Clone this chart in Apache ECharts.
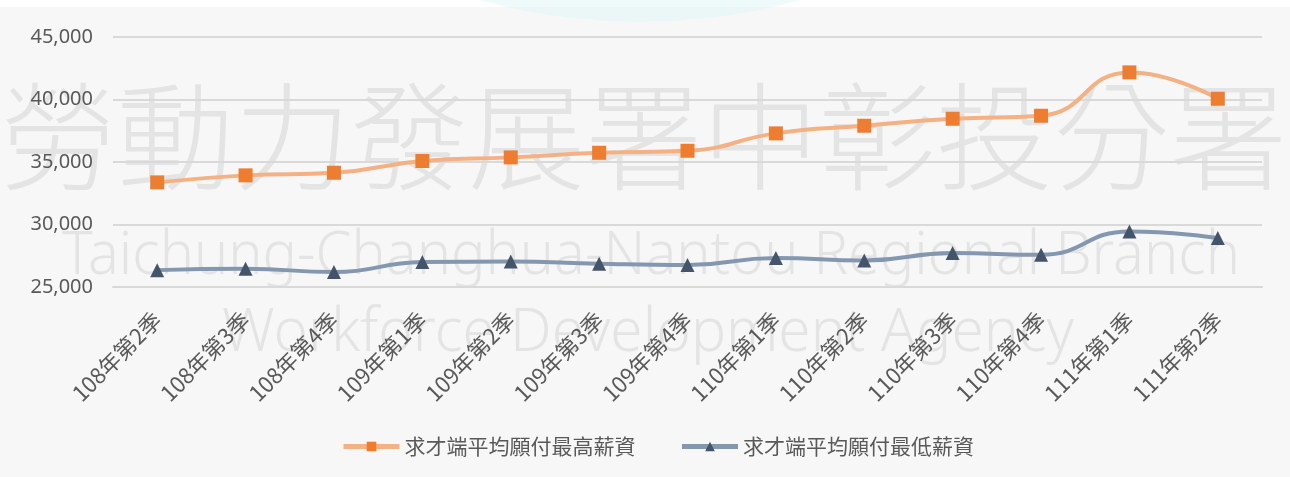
<!DOCTYPE html>
<html>
<head>
<meta charset="utf-8">
<script src="https://cdn.jsdelivr.net/npm/echarts@6/dist/echarts.min.js"></script>
<style>
html,body{margin:0;padding:0;background:#ffffff;}
#chart{width:1290px;height:477px;}
</style>
</head>
<body>
<div id="chart"></div>
<script>
const categories = ['108年第2季','108年第3季','108年第4季','109年第1季','109年第2季','109年第3季','109年第4季','110年第1季','110年第2季','110年第3季','110年第4季','111年第1季','111年第2季'];
const highSalary = [33370, 33930, 34140, 35080, 35370, 35740, 35900, 37290, 37900, 38460, 38700, 42170, 40060];
const lowSalary = [26350, 26460, 26200, 27000, 27050, 26860, 26760, 27320, 27130, 27720, 27580, 29450, 28920];
const seriesNames = ['求才端平均願付最高薪資', '求才端平均願付最低薪資'];
const yTicks = {min: 25000, max: 45000, interval: 5000};

const watermarkCN = '勞動力發展署中彰投分署';
const watermarkEN1 = 'Taichung-Changhua-Nantou Regional Branch';
const watermarkEN2 = 'Workforce Development Agency';

function fitScale(text, font, target) {
  const c = document.createElement('canvas').getContext('2d');
  c.font = font;
  return target / c.measureText(text).width;
}

const cnFont = '300 117px "Noto Sans CJK TC"';
const enFont = '300 61px "Noto Sans"';
const s1 = fitScale(watermarkEN1, enFont, 1178);
const s2 = fitScale(watermarkEN2, enFont, 852);

const chart = echarts.init(document.getElementById('chart'));
const wmColor = '#e4e4e4';
chart.setOption({
  backgroundColor: '#ffffff',
  animation: false,
  graphic: [
    {type: 'rect', z: -10, shape: {x: 0, y: 7, width: 1290, height: 470}, style: {fill: '#f7f7f7'}},
    {type: 'circle', z: -9, shape: {cx: 640, cy: -578, r: 600}, style: {fill: 'rgba(225,248,248,0.55)'}},
    {type: 'text', z: -5, x: 0, y: 137, style: {text: watermarkCN, font: cnFont, fill: wmColor, verticalAlign: 'middle'}},
    {type: 'text', z: -5, x: 62, y: 257, scaleX: s1, style: {text: watermarkEN1, font: enFont, fill: wmColor, verticalAlign: 'middle'}},
    {type: 'text', z: -5, x: 222, y: 334, scaleX: s2, style: {text: watermarkEN2, font: enFont, fill: wmColor, verticalAlign: 'middle'}}
  ],
  grid: {left: 113, right: 28, top: 37, bottom: 190, containLabel: false},
  legend: {
    top: 431,
    left: 336,
    itemWidth: 56,
    itemHeight: 12,
    itemGap: 44,
    lineStyle: {width: 5},
    textStyle: {fontSize: 21, color: '#595959', fontFamily: '"Noto Sans CJK TC"'},
    data: seriesNames
  },
  xAxis: {
    type: 'category',
    data: categories,
    boundaryGap: true,
    axisLine: {show: true, lineStyle: {color: '#d9d9d9', width: 2}},
    axisTick: {show: false},
    axisLabel: {rotate: 45, fontSize: 22, color: '#595959', margin: 29, interval: 0, fontFamily: '"Noto Sans CJK TC"'}
  },
  yAxis: {
    type: 'value',
    min: yTicks.min, max: yTicks.max, interval: yTicks.interval,
    axisLine: {show: false},
    axisTick: {show: false},
    splitLine: {lineStyle: {color: '#d9d9d9', width: 2}},
    axisLabel: {fontSize: 20, color: '#595959', margin: 20, fontFamily: '"Noto Sans"'}
  },
  series: [
    {
      name: seriesNames[0], type: 'line', data: highSalary, smooth: 0.5,
      symbol: 'rect', symbolSize: 14,
      lineStyle: {color: '#F4B183', width: 4},
      itemStyle: {color: '#ED7D31'}
    },
    {
      name: seriesNames[1], type: 'line', data: lowSalary, smooth: 0.5,
      symbol: 'triangle', symbolSize: 14,
      lineStyle: {color: '#8497B0', width: 4},
      itemStyle: {color: '#44546A'}
    }
  ]
});
</script>
</body>
</html>
